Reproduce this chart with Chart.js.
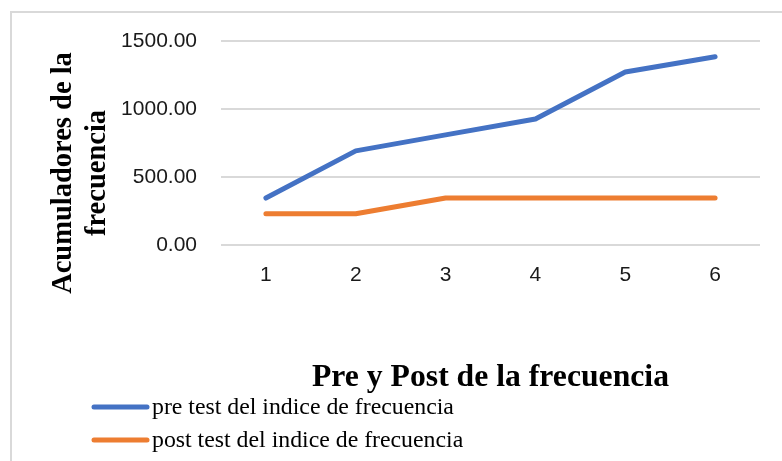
<!DOCTYPE html>
<html>
<head>
<meta charset="utf-8">
<script src="https://cdn.jsdelivr.net/npm/chart.js@4.4.1/dist/chart.umd.min.js"></script>
<style>
  html, body { margin: 0; padding: 0; background: #fff; }
  #wrap { position: relative; width: 782px; height: 461px; overflow: hidden; }
  #frame { position: absolute; left: 10px; top: 11px; width: 800px; height: 500px;
           border-top: 2px solid #d9d9d9; border-left: 2px solid #d9d9d9; }
  #chart { position: absolute; left: 0; top: 0; }
</style>
</head>
<body>
<div id="wrap">
  <div id="frame"></div>
  <canvas id="chart" width="782" height="461"></canvas>
</div>
<script>
// data
const categories = ['1', '2', '3', '4', '5', '6'];
const preTest = [345, 692, 810, 926, 1272, 1384];
const postTest = [230, 230, 345, 345, 345, 345];
const yTicks = [0, 500, 1000, 1500];
const seriesNames = ['pre test del indice de frecuencia', 'post test del indice de frecuencia'];
const yTitle = ['Acumuladores de la', 'frecuencia'];
const xTitle = 'Pre y Post de la frecuencia';

const blue = '#4472C4';
const orange = '#ED7D31';

// vertical axis title, two lines, centred a bit lower than the plot
const yTitlePlugin = {
  id: 'yTitle',
  afterDraw(chart) {
    const ctx = chart.ctx;
    ctx.save();
    ctx.font = 'bold 28.5px "Liberation Serif"';
    ctx.fillStyle = '#000';
    ctx.textAlign = 'center';
    ctx.textBaseline = 'middle';
    const xs = [64, 98];
    yTitle.forEach(function(line, i) {
      ctx.save();
      ctx.translate(xs[i], 173);
      ctx.rotate(-Math.PI / 2);
      ctx.fillText(line, 0, 0);
      ctx.restore();
    });
    ctx.restore();
  }
};

// legend stacked at the bottom left
const legendPlugin = {
  id: 'stackedLegend',
  afterDraw(chart) {
    const ctx = chart.ctx;
    ctx.save();
    chart.data.datasets.forEach(function(ds, i) {
      const y = 407 + i * 33;
      ctx.strokeStyle = ds.borderColor;
      ctx.lineWidth = 5;
      ctx.lineCap = 'round';
      ctx.beginPath();
      ctx.moveTo(94, y);
      ctx.lineTo(147, y);
      ctx.stroke();
      ctx.font = '23.8px "Liberation Serif"';
      ctx.fillStyle = '#000';
      ctx.textAlign = 'left';
      ctx.textBaseline = 'middle';
      ctx.fillText(ds.label, 152, y + 1);
    });
    ctx.restore();
  }
};

new Chart(document.getElementById('chart'), {
  type: 'line',
  data: {
    labels: categories,
    datasets: [
      {
        label: seriesNames[0],
        data: preTest,
        borderColor: blue,
        backgroundColor: blue,
        borderWidth: 5,
        borderCapStyle: 'round',
        borderJoinStyle: 'round',
        pointRadius: 0,
        tension: 0
      },
      {
        label: seriesNames[1],
        data: postTest,
        borderColor: orange,
        backgroundColor: orange,
        borderWidth: 5,
        borderCapStyle: 'round',
        borderJoinStyle: 'round',
        pointRadius: 0,
        tension: 0
      }
    ]
  },
  options: {
    responsive: false,
    animation: false,
    layout: { padding: { left: 0, top: 41, right: 22, bottom: 0 } },
    plugins: {
      legend: { display: false },
      tooltip: { enabled: false }
    },
    scales: {
      x: {
        type: 'category',
        offset: true,
        grid: { display: false, drawTicks: false },
        border: { display: false },
        ticks: {
          padding: 18,
          color: '#1a1a1a',
          font: { family: '"Liberation Sans"', size: 21 }
        },
        title: {
          display: true,
          text: xTitle,
          color: '#000',
          font: { family: '"Liberation Serif"', size: 31.7, weight: 'bold' },
          padding: { top: 0, bottom: 64 }
        },
        afterFit: function(scale) { scale.height = 216; }
      },
      y: {
        min: 0,
        max: 1500,
        afterBuildTicks: function(scale) {
          scale.ticks = yTicks.map(function(v) { return { value: v }; });
        },
        grid: { color: '#d9d9d9', lineWidth: 2, drawTicks: false },
        border: { display: false },
        ticks: {
          padding: 24,
          color: '#1a1a1a',
          font: { family: '"Liberation Sans"', size: 21 },
          callback: function(value) { return Number(value).toFixed(2); }
        },
        afterFit: function(scale) { scale.width = 221; }
      }
    }
  },
  plugins: [yTitlePlugin, legendPlugin]
});
</script>
</body>
</html>
